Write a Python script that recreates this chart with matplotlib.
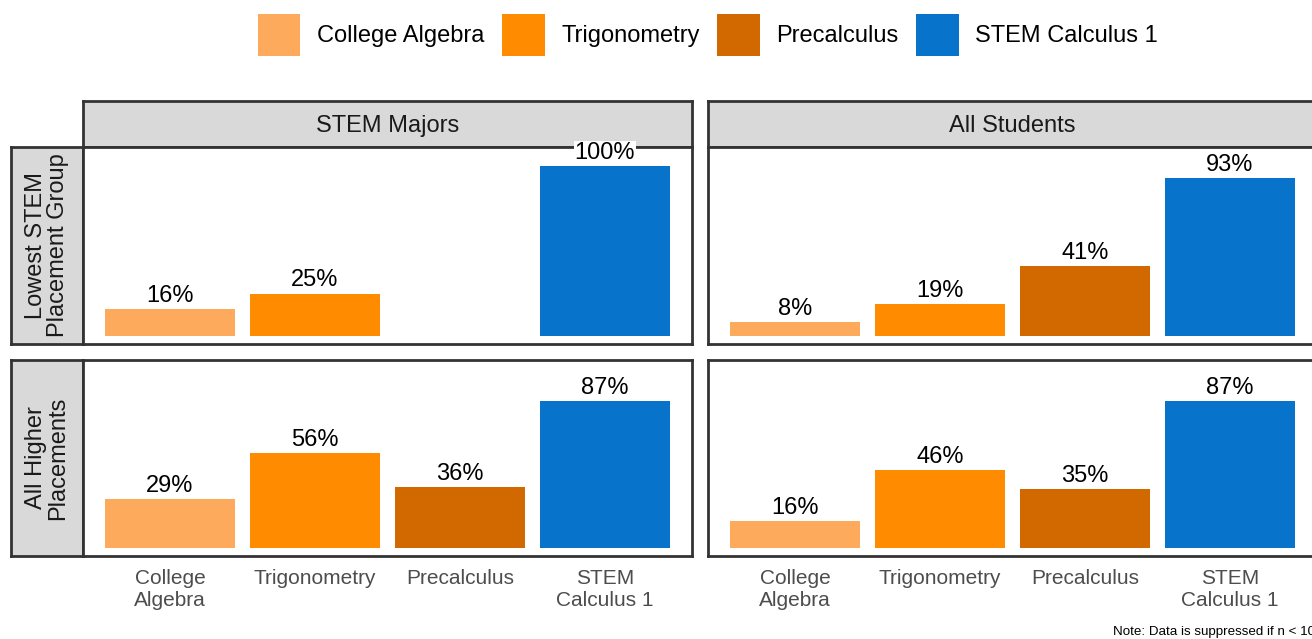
import numpy as np
import matplotlib
matplotlib.use("Agg")
import matplotlib.pyplot as plt
from matplotlib.patches import Patch

plt.rcParams['font.family'] = ['Liberation Sans', 'DejaVu Sans']

categories = ["College Algebra", "Trigonometry", "Precalculus", "STEM Calculus 1"]
tick_labels = ["College\nAlgebra", "Trigonometry", "Precalculus", "STEM\nCalculus 1"]
colors = ["#FDAA5C", "#FF8C00", "#D16900", "#0773CB"]

col_titles = ["STEM Majors", "All Students"]
row_titles = ["Lowest STEM\nPlacement Group", "All Higher\nPlacements"]

# percent success, np.nan = suppressed
stem_lowest = [16, 25, np.nan, 100]
all_lowest = [8, 19, 41, 93]
stem_higher = [29, 56, 36, 87]
all_higher = [16, 46, 35, 87]

values = [[stem_lowest, all_lowest], [stem_higher, all_higher]]

W, H = 1312, 639
fig = plt.figure(figsize=(W / 100, H / 100), dpi=100)


def box(x0, y0, x1, y1):
    return [x0 / W, 1 - y1 / H, (x1 - x0) / W, (y1 - y0) / H]


col_x = [(83, 692), (708, 1317)]
row_y = [(147, 344), (360, 556)]
edge = "#333333"
strip_fill = "#D9D9D9"

# strips
for c, (x0, x1) in enumerate(col_x):
    s = fig.add_axes(box(x0, 101, x1, 147), zorder=1)
    s.set_facecolor(strip_fill)
    s.set_xticks([]); s.set_yticks([])
    for sp in s.spines.values():
        sp.set_color(edge); sp.set_linewidth(2)
    s.text(0.5, 0.45, col_titles[c], ha='center', va='center', fontsize=17,
           color="#1A1A1A", transform=s.transAxes)

for r, (y0, y1) in enumerate(row_y):
    s = fig.add_axes(box(11, y0, 83, y1), zorder=1)
    s.set_facecolor(strip_fill)
    s.set_xticks([]); s.set_yticks([])
    for sp in s.spines.values():
        sp.set_color(edge); sp.set_linewidth(2)
    s.text(0.5, 0.5, row_titles[r], ha='center', va='center', fontsize=17,
           color="#1A1A1A", rotation=90, linespacing=1.0, transform=s.transAxes)

x = np.arange(len(categories))
for r, (y0, y1) in enumerate(row_y):
    for c, (x0, x1) in enumerate(col_x):
        ax = fig.add_axes(box(x0, y0, x1, y1), zorder=3)
        ax.set_facecolor("white")
        vals = np.array(values[r][c], dtype=float)
        for i in range(len(categories)):
            if np.isnan(vals[i]):
                continue
            ax.bar(x[i], vals[i], width=0.9, color=colors[i], zorder=2)
            ax.annotate(f"{vals[i]:.0f}%", (x[i], vals[i]), xytext=(0, 9.5),
                        textcoords='offset points', ha='center', va='center',
                        fontsize=17, color="black", annotation_clip=False, zorder=4,
                        bbox=dict(boxstyle='square,pad=0.05', fc='white', ec='none'))
        ax.set_xlim(-0.6, 3.6)
        ax.set_ylim(-4.7, 111.2)
        ax.set_yticks([])
        ax.set_xticks(x)
        if r == 1:
            ax.set_xticklabels(tick_labels, fontsize=15, color="#4D4D4D", linespacing=1.25)
            ax.tick_params(axis='x', length=0, pad=9)
        else:
            ax.set_xticklabels([])
            ax.tick_params(axis='x', length=0)
        for sp in ax.spines.values():
            sp.set_color(edge); sp.set_linewidth(2); sp.set_zorder(3)

handles = [Patch(facecolor=colors[i], edgecolor='none', label=categories[i])
           for i in range(len(categories))]
fig.legend(handles=handles, loc='center', bbox_to_anchor=(708 / W, 1 - 35 / H),
           ncol=4, frameon=False, fontsize=17, handlelength=1.8, handleheight=2.3,
           handletextpad=0.7, columnspacing=0.75)

fig.text(1113 / W, 1 - 632 / H, "Note: Data is suppressed if n < 10", fontsize=9.6,
         ha='left', va='center', color='black')

fig.savefig("out.png", dpi=100, facecolor="white")
